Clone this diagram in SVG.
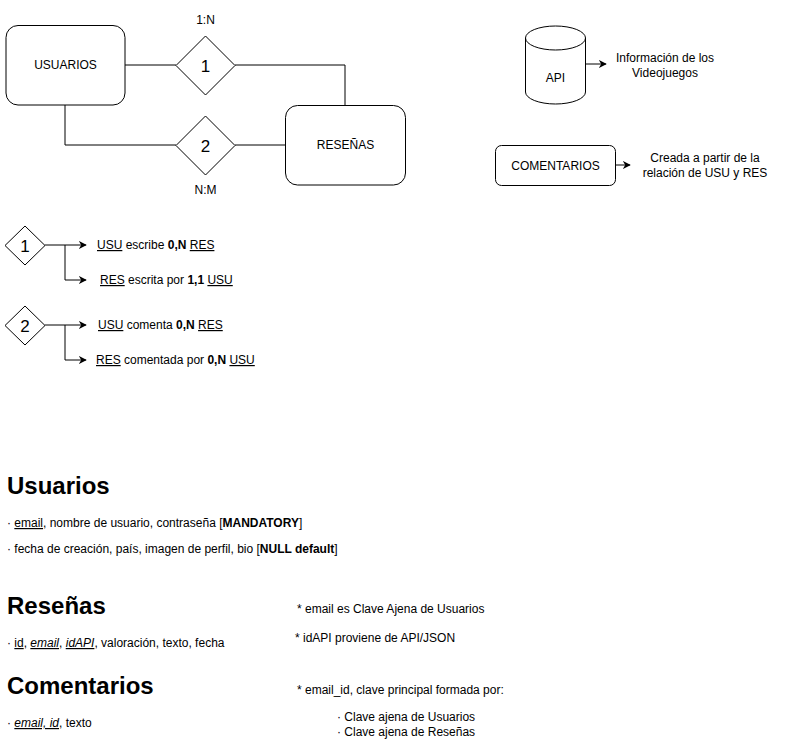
<svg xmlns="http://www.w3.org/2000/svg" width="786" height="753" viewBox="0 0 786 753">
<style>
text{font-family:"Liberation Sans",Arial,sans-serif;fill:#000}
.s{font-size:12px}
.c{text-anchor:middle}
.d{font-size:17px}
.h{font-size:24px;font-weight:bold}
.shape{fill:#fff;stroke:#000;stroke-width:1}
.ln{fill:none;stroke:#000;stroke-width:1}
.u{text-decoration:underline}
.i{font-style:italic}
.b{font-weight:bold}
</style>
<defs>
<marker id="arr" viewBox="0 0 10 10" refX="9" refY="5" markerWidth="8" markerHeight="8" markerUnits="userSpaceOnUse" orient="auto">
<path d="M0,0 L10,5 L0,10 L3,5 Z" fill="#000"/>
</marker>
</defs>
<rect width="786" height="753" fill="#fff"/>
<g id="connectors">
<path class="ln" d="M125,65 H176"/>
<path class="ln" d="M235,65 H345 V105"/>
<path class="ln" d="M65,105 V145 H176"/>
<path class="ln" d="M235,145 H285"/>
<path class="ln" d="M586,64 H606" marker-end="url(#arr)"/>
<path class="ln" d="M615,165 H630" marker-end="url(#arr)"/>
<path class="ln" d="M45,245 H86" marker-end="url(#arr)"/>
<path class="ln" d="M65,245 V280 H86" marker-end="url(#arr)"/>
<path class="ln" d="M45,325 H86" marker-end="url(#arr)"/>
<path class="ln" d="M65,325 V360 H86" marker-end="url(#arr)"/>
</g>
<g id="usuarios">
<rect class="shape" x="6" y="25.5" width="119" height="79.5" rx="12"/>
<text class="s c" x="65.5" y="69">USUARIOS</text>
</g>
<g id="resenas">
<rect class="shape" x="285.5" y="105.5" width="120" height="79.5" rx="12"/>
<text class="s c" x="345.5" y="149">RESEÑAS</text>
</g>
<g id="rel1">
<path class="shape" d="M205.5,36 L235,65.5 L205.5,95 L176,65.5 Z"/>
<text class="d c" x="205.5" y="71.5">1</text>
<text class="s c" x="205.5" y="24">1:N</text>
</g>
<g id="rel2">
<path class="shape" d="M205.5,116 L235,145.5 L205.5,175 L176,145.5 Z"/>
<text class="d c" x="205.5" y="151.5">2</text>
<text class="s c" x="205.5" y="194">N:M</text>
</g>
<g id="api">
<path class="shape" d="M525.5,38 V92 A30,12 0 0 0 585.5,92 V38 A30,12 0 0 0 525.5,38 Z"/>
<path class="ln" d="M525.5,38 A30,12 0 0 0 585.5,38"/>
<text class="s c" x="555.5" y="82">API</text>
</g>
<g id="api-note">
<text class="s c" x="665" y="62">Información de los</text>
<text class="s c" x="665" y="77">Videojuegos</text>
</g>
<g id="comentarios">
<rect class="shape" x="495.5" y="145.5" width="120" height="40" rx="6"/>
<text class="s c" x="555.5" y="169.5">COMENTARIOS</text>
</g>
<g id="comentarios-note">
<text class="s c" x="705" y="162">Creada a partir de la</text>
<text class="s c" x="705" y="177">relación de USU y RES</text>
</g>
<g id="legend1">
<path class="shape" d="M25,226 L45,245.5 L25,265 L5,245.5 Z"/>
<text class="d c" x="25" y="251.5">1</text>
<text class="s" x="97" y="249"><tspan class="u">USU</tspan> escribe <tspan class="b">0,N</tspan> <tspan class="u">RES</tspan></text>
<text class="s" x="100" y="284"><tspan class="u">RES</tspan> escrita por <tspan class="b">1,1</tspan> <tspan class="u">USU</tspan></text>
</g>
<g id="legend2">
<path class="shape" d="M25,306 L45,325.5 L25,345 L5,325.5 Z"/>
<text class="d c" x="25" y="331.5">2</text>
<text class="s" x="98" y="329"><tspan class="u">USU</tspan> comenta <tspan class="b">0,N</tspan> <tspan class="u">RES</tspan></text>
<text class="s" x="96" y="364"><tspan class="u">RES</tspan> comentada por <tspan class="b">0,N</tspan> <tspan class="u">USU</tspan></text>
</g>
<g id="tabla-usuarios">
<text class="h" x="7" y="494">Usuarios</text>
<text class="s" x="7" y="527">· <tspan class="u">email</tspan>, nombre de usuario, contraseña [<tspan class="b">MANDATORY</tspan>]</text>
<text class="s" x="7" y="553">· fecha de creación, país, imagen de perfil, bio [<tspan class="b">NULL default</tspan>]</text>
</g>
<g id="tabla-resenas">
<text class="h" x="7" y="614">Reseñas</text>
<text class="s" x="7" y="647">· <tspan class="u">id</tspan>, <tspan class="u i">email</tspan>, <tspan class="u i">idAPI</tspan>, valoración, texto, fecha</text>
<text class="s" x="297" y="613">* email es Clave Ajena de Usuarios</text>
<text class="s" x="295" y="642">* idAPI proviene de API/JSON</text>
</g>
<g id="tabla-comentarios">
<text class="h" x="7" y="694">Comentarios</text>
<text class="s" x="7" y="727">· <tspan class="u i">email, id</tspan>, texto</text>
<text class="s" x="297" y="694">* email_id, clave principal formada por:</text>
<text class="s" x="337" y="721">· Clave ajena de Usuarios</text>
<text class="s" x="337" y="736">· Clave ajena de Reseñas</text>
</g>
</svg>
